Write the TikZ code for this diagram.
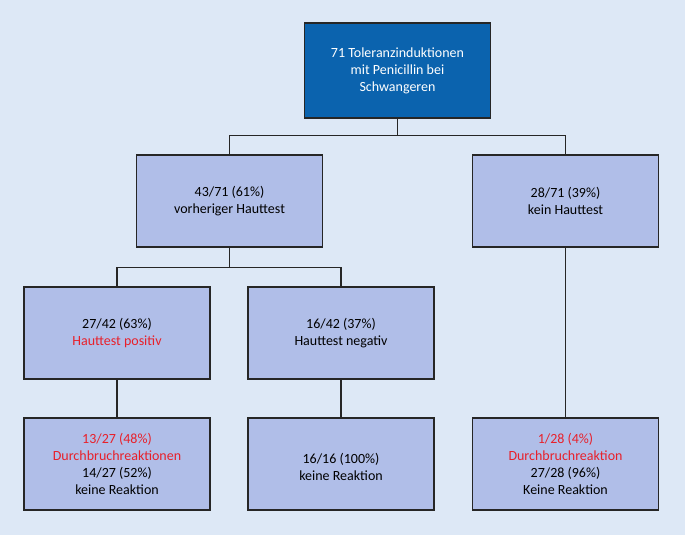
\documentclass[tikz,border=0pt]{standalone}
\usepackage{fontspec}
\setmainfont{Carlito}
\definecolor{bg}{HTML}{DDE8F6}
\definecolor{topc}{HTML}{0B63AE}
\definecolor{boxc}{HTML}{B0BEE8}
\definecolor{redt}{HTML}{E8202A}
\begin{document}
\begin{tikzpicture}[x=1pt,y=-1pt,
  bx/.style={draw=black!85,line width=1.2pt,fill=boxc,minimum width=186pt,minimum height=92pt,align=center,inner sep=0pt,font=\fontsize{14}{17}\selectfont},
  tp/.style={bx,fill=topc,text=white,minimum height=95pt},
  ln/.style={draw=black!85,line width=1.2pt}]
\fill[bg] (0,0) rectangle (685,535);
\useasboundingbox (0,0) rectangle (685,535);
\node[tp] (t) at (397.5,70.5) {71 Toleranzinduktionen\\mit Penicillin bei\\Schwangeren};
\node[bx] (a) at (229.5,201) {43/71 (61\%)\\vorheriger Hauttest};
\node[bx] (b) at (565.5,201) {28/71 (39\%)\\kein Hauttest};
\node[bx] (c) at (117,333) {27/42 (63\%)\\\textcolor{redt}{Hauttest positiv}};
\node[bx] (d) at (341,333) {16/42 (37\%)\\Hauttest negativ};
\node[bx] (e) at (117,464) {\textcolor{redt}{13/27 (48\%)}\\\textcolor{redt}{Durchbruchreaktionen}\\14/27 (52\%)\\keine Reaktion};
\node[bx] (f) at (341,464) {\\16/16 (100\%)\\keine Reaktion};
\node[bx] (g) at (565.5,464) {\textcolor{redt}{1/28 (4\%)}\\\textcolor{redt}{Durchbruchreaktion}\\27/28 (96\%)\\Keine Reaktion};
\draw[ln] (t.south) -- ++(0,17) -| (a.north);
\draw[ln] (t.south) -- ++(0,17) -| (b.north);
\draw[ln] (a.south) -- ++(0,20) -| (c.north);
\draw[ln] (a.south) -- ++(0,20) -| (d.north);
\draw[ln] (c) -- (e);
\draw[ln] (d) -- (f);
\draw[ln] (b) -- (g);
\end{tikzpicture}
\end{document}
